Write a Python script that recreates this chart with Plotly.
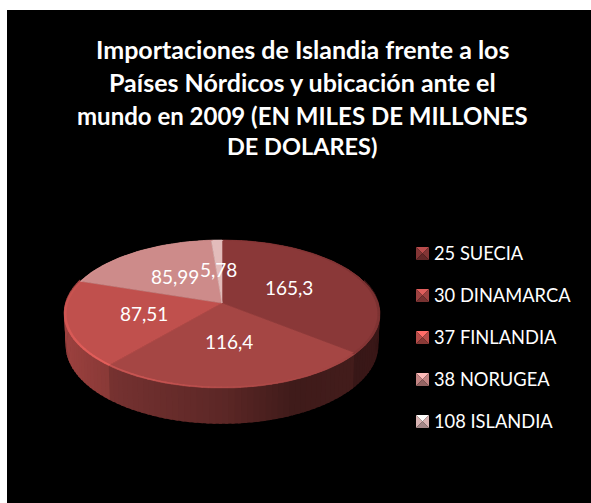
import numpy as np
import plotly.graph_objects as go

# ---------- data ----------
CATEGORIES = ["25 SUECIA", "30 DINAMARCA", "37 FINLANDIA", "38 NORUGEA", "108 ISLANDIA"]
VALUES = [165.3, 116.4, 87.51, 85.99, 5.78]
VALUE_LABELS = ["165,3", "116,4", "87,51", "85,99", "5,78"]
TITLE_LINES = ["Importaciones de Islandia frente a los",
               "Países Nórdicos y ubicación ante el",
               "mundo en 2009 (EN MILES DE MILLONES",
               "DE DOLARES)"]
COLORS = [(138, 56, 56), (165, 70, 68), (192, 80, 77), (205, 139, 138), (227, 188, 187)]

# ---------- geometry / style ----------
W, H = 591, 503
CX, CY, R, S, K, D = 222, 303, 156.2, 72.4, 0.1486, 30.5
FONT = "Lato"


def hexc(c, f=1.0):
    return "rgb(%d,%d,%d)" % tuple(min(255, max(0, round(v * f))) for v in c)


def proj(theta_deg, r=1.0):
    t = np.radians(theta_deg)
    u, v = r * np.sin(t), -r * np.cos(t)
    den = 1 - K * v
    return CX + R * u / den, CY + S * v / den


def proj_low(theta_deg):
    t = np.radians(theta_deg)
    u, v = np.sin(t), -np.cos(t)
    den = 1 - K * v
    return CX + 0.99 * R * u / den, CY + S * v / den + D / den


fig = go.Figure()


def poly(xs, ys, color, lw=0.6):
    fig.add_trace(go.Scatter(x=list(xs) + [xs[0]], y=list(ys) + [ys[0]], mode="lines", fill="toself",
                             fillcolor=color, line=dict(color=color, width=lw),
                             hoverinfo="skip", showlegend=False))


total = sum(VALUES)
edges = np.concatenate([[0], np.cumsum(VALUES)]) / total * 360


def slice_index(theta):
    return min(int(np.searchsorted(edges, theta, side="right")) - 1, len(VALUES) - 1)


# side wall: drawn band by band so each band overlaps the previous one
wall_shade_u = [-1, -0.7, 0, 0.4, 1]
wall_shade_f = [0.83, 0.73, 0.56, 0.38, 0.42]
STEP = 2
WALL_FROM, WALL_TO = 72, 288
wall_th = np.arange(WALL_FROM, WALL_TO + STEP, STEP, dtype=float)
for a in wall_th[:-1]:
    mid = a + STEP / 2
    c = COLORS[slice_index(mid)]
    f = float(np.interp(np.sin(np.radians(mid)), wall_shade_u, wall_shade_f))
    b = min(a + STEP + 1.0, WALL_TO)
    x1, y1 = proj(a)
    x2, y2 = proj(b)
    x3, y3 = proj_low(b)
    x4, y4 = proj_low(a)
    poly([x1, x2, x3, x4], [y1 - 2, y2 - 2, y3, y4], hexc(c, f), lw=0)

# top face slices
for i, c in enumerate(COLORS):
    th = np.linspace(edges[i], edges[i + 1], max(4, int(edges[i + 1] - edges[i]) + 1))
    px, py = proj(th)
    poly([float(CX)] + list(px), [float(CY)] + list(py), hexc(c))

# rim bevel
rim_a = [0, 90, 135, 180, 205, 235, 270, 300, 360]
rim_f = [1.0, 0.88, 0.98, 1.08, 1.22, 1.16, 1.05, 1.02, 1.0]
for a in np.arange(0, 360, STEP):
    mid = a + STEP / 2
    c = COLORS[slice_index(mid)]
    f = float(np.interp(mid, rim_a, rim_f))
    x1, y1 = proj(a, 0.985)
    x2, y2 = proj(a + STEP + 0.5, 0.985)
    x3, y3 = proj(a + STEP + 0.5, 1.0)
    x4, y4 = proj(a, 1.0)
    poly([x1, x2, x3, x4], [y1, y2, y3, y4], hexc(c, f), lw=0)

# legend swatches
SW = 13
LEG_X, LEG_Y0, LEG_DY = 416, 247, 42
for i, c in enumerate(COLORS):
    x0, y0 = LEG_X, LEG_Y0 + LEG_DY * i
    xm, ym = x0 + SW / 2, y0 + SW / 2
    x1, y1 = x0 + SW, y0 + SW
    poly([x0, x1, xm], [y0, y0, ym], hexc(c, 1.35), lw=0)
    poly([x0, xm, x0], [y0, ym, y1], hexc(c, 0.95), lw=0)
    poly([x1, xm, x1], [y0, ym, y1], hexc(c, 0.95), lw=0)
    poly([x0, x1, xm], [y1, y1, ym], hexc(c, 0.72), lw=0)

annotations = []
for line, yy, sz in zip(TITLE_LINES, [49, 82, 115, 146], [25, 25, 24, 23.5]):
    annotations.append(dict(x=302, y=yy, text=line, showarrow=False, xanchor="center", yanchor="middle",
                            font=dict(family=FONT, size=sz, color="white", weight="bold")))
for i, lab in enumerate(CATEGORIES):
    annotations.append(dict(x=432, y=LEG_Y0 + LEG_DY * i + SW / 2 - 1, text=lab, showarrow=False,
                            xanchor="left", yanchor="middle",
                            font=dict(family=FONT, size=18.3, color="white")))
for i, lab in enumerate(VALUE_LABELS):
    lx, ly = proj((edges[i] + edges[i + 1]) / 2, 0.5)
    annotations.append(dict(x=float(lx) - 1, y=float(ly), text=lab, showarrow=False,
                            xanchor="center", yanchor="middle",
                            font=dict(family=FONT, size=19, color="white")))

fig.update_layout(
    width=W, height=H, margin=dict(l=0, r=0, t=0, b=0), paper_bgcolor="white", plot_bgcolor="rgba(0,0,0,0)",
    showlegend=False, annotations=annotations,
    xaxis=dict(range=[0, W], visible=False, fixedrange=True),
    yaxis=dict(range=[H, 0], visible=False, fixedrange=True),
    shapes=[dict(type="rect", x0=7, x1=W, y0=10, y1=H, fillcolor="black", line_width=0, layer="below")],
)
fig.write_html("out.html", config={"displayModeBar": False},
               post_script="document.body.style.margin='0';document.documentElement.style.overflow='hidden';")
